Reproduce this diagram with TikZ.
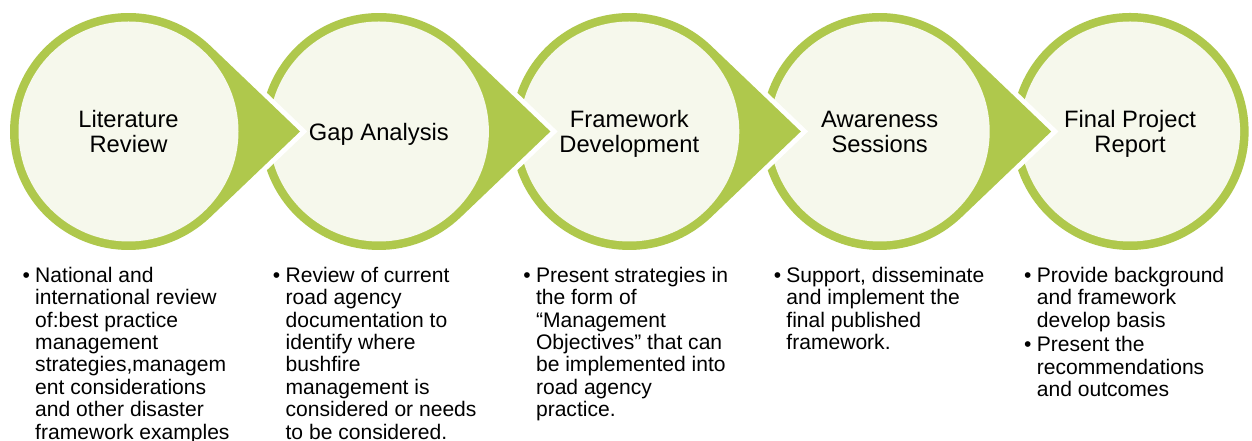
\documentclass[tikz,border=0pt]{standalone}
\usepackage{fontspec}
\setmainfont{Liberation Sans}
\definecolor{stagegreen}{RGB}{175,200,76}
\definecolor{stagefill}{RGB}{246,248,236}
\newcommand{\bitem}[1]{\makebox[9.5pt][l]{•}\parbox[t]{170pt}{#1}}
\tikzset{
  halo/.style={fill=white, draw=white, line width=7.5pt, line join=miter},
  ring/.style={fill=stagegreen, preaction={halo}},
  disc/.style={fill=stagefill},
  head/.style={align=center, inner sep=0pt, text depth=0pt, font=\fontsize{17.8}{18.8}\selectfont},
  desc/.style={anchor=north west, inner sep=0pt, align=left, font=\fontsize{15.8}{16.8}\selectfont}
}
\begin{document}
\begin{tikzpicture}[x=0.75pt, y=0.75pt]
    \useasboundingbox (0,0) rectangle (1252,441);

    % Stage 5 (last one, no pointer)
    \begin{scope}[shift={(1130.1,309.5)}]
        \fill[ring] (0,0) circle[radius=118.5];
        \fill[disc] (0,0) circle[radius=110];
        \node[head] (report) at (0,0) {Final Project\\Report};
        \node[desc] (report-txt) at (-106.2,-135.2)
            {\bitem{Provide background\\and framework\\develop basis}\\[3pt]
             \bitem{Present the\\recommendations\\and outcomes}};
    \end{scope}

    % Stage 4
    \begin{scope}[shift={(879.7,309.5)}]
        \fill[ring] (46.3:118.5) arc[start angle=46.3, end angle=313.7, radius=118.5] -- (171.5,0) -- cycle;
        \fill[disc] (0,0) circle[radius=110];
        \node[head] (aware) at (0,0) {Awareness\\Sessions};
        \node[desc] (aware-txt) at (-106.2,-135.2)
            {\bitem{Support, disseminate\\and implement the\\final published\\framework.}};
    \end{scope}

    % Stage 3
    \begin{scope}[shift={(629.3,309.5)}]
        \fill[ring] (46.3:118.5) arc[start angle=46.3, end angle=313.7, radius=118.5] -- (171.5,0) -- cycle;
        \fill[disc] (0,0) circle[radius=110];
        \node[head] (frame) at (0,0) {Framework\\Development};
        \node[desc] (frame-txt) at (-106.2,-135.2)
            {\bitem{Present strategies in\\the form of\\“Management\\Objectives” that can\\be implemented into\\road agency\\practice.}};
    \end{scope}

    % Stage 2
    \begin{scope}[shift={(378.9,309.5)}]
        \fill[ring] (46.3:118.5) arc[start angle=46.3, end angle=313.7, radius=118.5] -- (171.5,0) -- cycle;
        \fill[disc] (0,0) circle[radius=110];
        \node[head] (gap) at (0,0) {Gap Analysis};
        \node[desc] (gap-txt) at (-106.2,-135.2)
            {\bitem{Review of current\\road agency\\documentation to\\identify where\\bushfire\\management is\\considered or needs\\to be considered.}};
    \end{scope}

    % Stage 1
    \begin{scope}[shift={(128.5,309.5)}]
        \fill[ring] (46.3:118.5) arc[start angle=46.3, end angle=313.7, radius=118.5] -- (171.5,0) -- cycle;
        \fill[disc] (0,0) circle[radius=110];
        \node[head] (lit) at (0,0) {Literature\\Review};
        \node[desc] (lit-txt) at (-106.2,-135.2)
            {\bitem{National and\\international review\\of:best practice\\management\\strategies,managem\\ent considerations\\and other disaster\\framework examples}};
    \end{scope}
\end{tikzpicture}
\end{document}
